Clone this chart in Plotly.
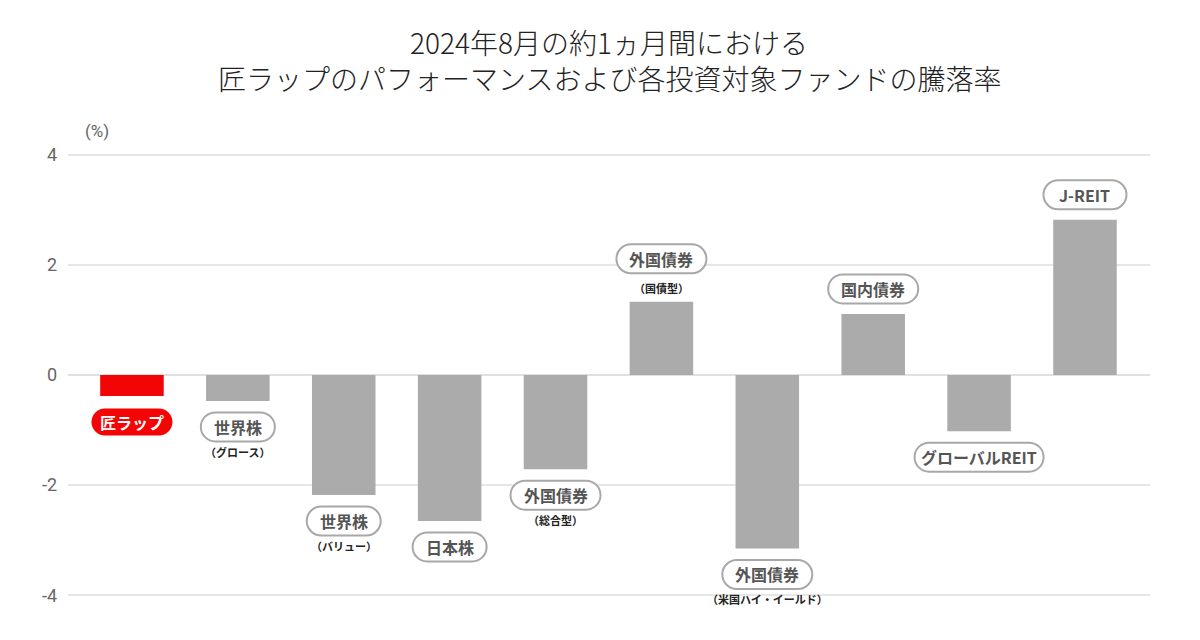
import plotly.graph_objects as go

# 2024年8月の約1ヵ月間の騰落率（%）
categories = ["匠ラップ", "世界株", "世界株", "日本株", "外国債券", "外国債券",
              "外国債券", "国内債券", "グローバルREIT", "J-REIT"]
sublabels = ["", "（グロース）", "（バリュー）", "", "（総合型）", "（国債型）",
             "（米国ハイ・イールド）", "", "", ""]
values = [-0.38, -0.47, -2.18, -2.65, -1.71, 1.33, -3.15, 1.11, -1.02, 2.82]

FONT = "Noto Sans CJK JP"
RED = "#f30505"
GREY = "#ababab"


def text_width(s: str) -> float:
    w = 0
    for ch in s:
        if ord(ch) < 128:
            w += 9.5
        elif "\u30a0" <= ch <= "\u30ff":
            w += 13
        else:
            w += 16
    return w


def pill_path(cy: float, w: float, h: float) -> str:
    # pixel offsets around the anchor, y up
    r = h / 2
    k = 0.5523 * r
    l, rt = -w / 2, w / 2
    top, bot = cy + r, cy - r
    return (
        f"M {l + r},{top} L {rt - r},{top} "
        f"C {rt - r + k},{top} {rt},{cy + k} {rt},{cy} "
        f"C {rt},{cy - k} {rt - r + k},{bot} {rt - r},{bot} "
        f"L {l + r},{bot} "
        f"C {l + r - k},{bot} {l},{cy - k} {l},{cy} "
        f"C {l},{cy + k} {l + r - k},{top} {l + r},{top} Z"
    )


xs = list(range(len(categories)))
colors = [RED if i == 0 else GREY for i in xs]

fig = go.Figure(
    go.Bar(
        x=xs, y=values, width=0.6,
        marker=dict(color=colors, line=dict(width=0)),
        hovertext=[c + s for c, s in zip(categories, sublabels)],
        hoverinfo="text+y",
    )
)

shapes = []
annotations = []
for i, (cat, sub, v) in enumerate(zip(categories, sublabels, values)):
    up = v >= 0
    if up:
        pill_y = 43 if sub else 25
        sub_y = 14
    else:
        pill_y = -26
        sub_y = -51
    first = i == 0
    h = 27 if first else 29
    w = text_width(cat) + 26
    shapes.append(dict(
        type="path", xref="x", yref="y",
        xsizemode="pixel", ysizemode="pixel",
        xanchor=i, yanchor=v,
        path=pill_path(pill_y, w, h),
        fillcolor=RED if first else "white",
        line=dict(color=RED if first else "#a8a8a8", width=0 if first else 2),
        layer="above",
    ))
    annotations.append(dict(
        x=i, y=v, xref="x", yref="y", yshift=pill_y,
        text=f"<b>{cat}</b>", showarrow=False,
        font=dict(family=FONT, size=16, color="white" if first else "#555555"),
        xanchor="center", yanchor="middle",
    ))
    if sub:
        annotations.append(dict(
            x=i, y=v, xref="x", yref="y", yshift=sub_y,
            text=f"<b>{sub}</b>", showarrow=False,
            font=dict(family=FONT, size=11, color="#222222"),
            xanchor="center", yanchor="middle",
        ))

# title lines and unit (paper y: 0 -> px 598, 1 -> px 152)
def py(px):
    return (598 - px) / 446


annotations += [
    dict(x=0.5, y=py(42), xref="paper", yref="paper", showarrow=False,
         text="2024年8月の約1ヵ月間における",
         font=dict(family=FONT, size=28, color="#222222", weight=300),
         xanchor="center", yanchor="middle"),
    dict(x=0.5, y=py(78), xref="paper", yref="paper", showarrow=False,
         text="匠ラップのパフォーマンスおよび各投資対象ファンドの騰落率",
         font=dict(family=FONT, size=28, color="#222222", weight=300),
         xanchor="center", yanchor="middle"),
    dict(x=0.0268, y=py(131), xref="paper", yref="paper", showarrow=False,
         text="(%)", font=dict(family="Roboto", size=17, color="#666666"),
         xanchor="center", yanchor="middle"),
]

fig.update_layout(
    width=1200, height=640,
    margin=dict(l=68, r=50, t=152, b=42),
    paper_bgcolor="white", plot_bgcolor="white",
    showlegend=False,
    shapes=shapes,
    annotations=annotations,
    font=dict(family=FONT),
    xaxis=dict(range=[-0.604, 9.614], showgrid=False, zeroline=False,
               showticklabels=False, showline=False, fixedrange=True),
    yaxis=dict(range=[-4.05, 4.05], tickvals=[-4, -2, 0, 2, 4],
               ticktext=["-4", "-2", "0", "2", "4"],
               gridcolor="#e6e6e6", gridwidth=1.5,
               zeroline=True, zerolinecolor="#e0e0e0", zerolinewidth=1.5,
               showline=False, ticks="", ticklabelstandoff=10,
               tickfont=dict(family="Roboto", size=18, color="#666666"),
               fixedrange=True),
)

fig.write_html("out.html", config={"displayModeBar": False},
               post_script="document.body.style.margin='0';")
